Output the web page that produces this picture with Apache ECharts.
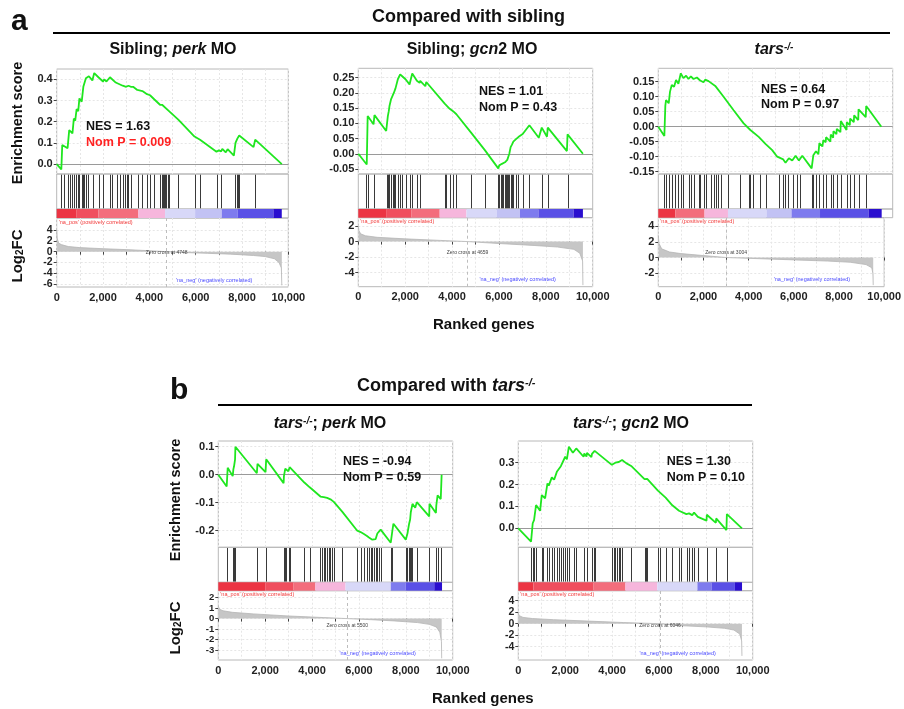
<!DOCTYPE html>
<html><head><meta charset="utf-8">
<script src="https://cdn.jsdelivr.net/npm/echarts@6/dist/echarts.min.js"></script>
<style>html,body{margin:0;padding:0;background:#fff}#c{width:904px;height:709px}</style>
</head><body><div id="c"></div>
<script>
// ---------------- DATA ----------------
// Panel 1: Sibling; perk MO
const es1 = [[0,0],[200,-0.025],[240,0.09],[470,0.075],[540,0.16],[680,0.145],[740,0.215],[800,0.205],[860,0.26],[930,0.25],[980,0.31],[1080,0.295],[1150,0.365],[1200,0.36],[1260,0.405],[1330,0.4],[1390,0.415],[1540,0.395],[1620,0.43],[1800,0.41],[1830,0.415],[2000,0.39],[2050,0.4],[2150,0.39],[2300,0.41],[2550,0.385],[2620,0.38],[2850,0.37],[2880,0.375],[3000,0.365],[3100,0.37],[3200,0.365],[3300,0.365],[3480,0.35],[3520,0.353],[3700,0.345],[3900,0.33],[4030,0.325],[4220,0.305],[4460,0.28],[4550,0.28],[4850,0.25],[5250,0.21],[5950,0.13],[6190,0.115],[6200,0.12],[6900,0.058],[7000,0.065],[7100,0.06],[7150,0.072],[7300,0.055],[7380,0.07],[7650,0.04],[7720,0.10],[7800,0.12],[7880,0.135],[8500,0.08],[8570,0.115],[9720,0.0]];
const hits1 = [186,330,474,575,647,748,819,906,978,1079,1150,1194,1251,1338,1582,1827,2014,2302,2403,2591,2735,2878,2950,3022,3094,3209,3498,3699,3887,4031,4218,4463,4535,4607,4650,4679,4722,4794,4852,5254,5976,6192,6911,7099,7704,7775,7818,7876,8568];
const strip1 = [[0,862,0],[862,1798,1],[1798,3527,2],[3527,4679,4],[4679,5976,5],[5976,7127,6],[7127,7818,7],[7818,9358,8],[9358,9718,9]];
const metric1 = [[0,4.0],[20,2.5],[80,1.6],[200,1.3],[500,0.95],[1000,0.75],[2000,0.55],[3000,0.38],[4000,0.18],[4748,0],[5500,-0.15],[6500,-0.3],[7500,-0.45],[8500,-0.7],[9000,-0.9],[9400,-1.3],[9600,-2.0],[9700,-3.0],[9720,-6.2]];
const esTicks1 = [0, 0.1, 0.2, 0.3, 0.4];
const metTicks1 = [-6, -4, -2, 0, 2, 4];
const zero1 = 4748;

// Panel 2: Sibling; gcn2 MO
const es2 = [[0,0],[360,-0.035],[400,0.124],[650,0.097],[690,0.127],[1190,0.075],[1260,0.124],[1300,0.14],[1330,0.157],[1400,0.18],[1470,0.185],[1515,0.2],[1587,0.215],[1687,0.245],[1786,0.261],[1872,0.255],[2015,0.245],[2186,0.228],[2301,0.264],[2500,0.24],[2520,0.245],[2615,0.233],[2640,0.24],[2860,0.222],[2900,0.236],[3686,0.165],[3757,0.16],[3900,0.148],[4043,0.14],[4185,0.13],[4828,0.068],[5399,0.012],[5971,-0.048],[6014,-0.038],[6071,-0.042],[6128,-0.033],[6185,-0.038],[6256,-0.028],[6299,-0.032],[6356,-0.02],[6399,-0.018],[6442,0.0],[6499,0.022],[6556,0.03],[6614,0.04],[6727,0.048],[6828,0.055],[7013,0.065],[7299,0.094],[7700,0.053],[7827,0.086],[8050,0.056],[8085,0.086],[8900,0.009],[8927,0.064],[9583,0.0]];
const hits2 = [330,401,687,1215,1258,1301,1329,1401,1472,1515,1587,1687,1786,1872,2015,2186,2301,2500,2615,3686,3757,3900,4043,4185,4828,5399,5971,6014,6071,6128,6185,6256,6299,6356,6399,6442,6499,6556,6614,6727,6828,7013,7299,7827,8085,8927];
const strip2 = [[0,1187,0],[1187,2257,1],[2257,3472,2],[3472,4614,4],[4614,5900,5],[5900,6899,6],[6899,7684,7],[7684,9184,8],[9184,9583,9]];
const metric2 = [[0,2.0],[30,1.4],[100,1.0],[300,0.75],[800,0.55],[2000,0.35],[3500,0.15],[4659,0],[6000,-0.25],[7500,-0.5],[8500,-0.7],[9200,-1.0],[9450,-1.5],[9570,-2.5],[9583,-5.6]];
const esTicks2 = [-0.05, 0, 0.05, 0.1, 0.15, 0.2, 0.25];
const metTicks2 = [-4, -2, 0, 2];
const zero2 = 4659;

// Panel 3: tars-/-
const es3 = [[0,0],[258,-0.031],[300,0.07],[330,0.089],[444,0.078],[500,0.117],[574,0.139],[673,0.133],[758,0.156],[857,0.143],[960,0.178],[1071,0.162],[1187,0.17],[1286,0.159],[1388,0.168],[1503,0.159],[1646,0.164],[1786,0.154],[1928,0.148],[2000,0.157],[2143,0.152],[2429,0.136],[2785,0.1],[3213,0.055],[3641,0.011],[3928,-0.011],[3998,-0.009],[4284,-0.034],[4571,-0.057],[4858,-0.078],[5072,-0.1],[5157,-0.102],[5330,-0.109],[5428,-0.12],[5571,-0.105],[5714,-0.113],[5857,-0.097],[5998,-0.113],[6143,-0.097],[6542,-0.139],[6614,-0.095],[6727,-0.082],[6828,-0.092],[6871,-0.055],[7000,-0.066],[7042,-0.045],[7140,-0.052],[7156,-0.035],[7340,-0.05],[7357,-0.026],[7460,-0.037],[7471,-0.015],[7600,-0.025],[7614,-0.007],[7770,-0.018],[7785,0.019],[8030,-0.011],[8042,0.015],[8170,0.005],[8184,0.027],[8340,0.015],[8355,0.038],[8530,0.022],[8542,0.058],[8850,0.032],[8869,0.069],[9515,0.0]];
const hits3 = [258,330,473,587,730,830,973,1072,1301,1401,1544,1729,1786,1929,2015,2043,2257,2357,2472,2543,2686,2972,3472,3871,3928,4043,4357,4614,5157,5299,5399,5542,5728,5899,6042,6542,6614,6727,6871,7042,7156,7357,7471,7614,7785,8042,8184,8355,8542,8869];
const strip3 = [[0,730,0],[730,1973,2],[1973,2972,4],[2972,4614,5],[4614,5685,6],[5685,6899,7],[6899,8970,8],[8970,9530,9]];
const metric3 = [[0,2.8],[30,1.8],[150,1.1],[500,0.7],[1000,0.5],[2000,0.25],[3004,0],[4500,-0.15],[6000,-0.3],[7500,-0.45],[8500,-0.6],[9200,-0.9],[9450,-1.3],[9500,-2.0],[9515,-3.5]];
const esTicks3 = [-0.15, -0.1, -0.05, 0, 0.05, 0.1, 0.15];
const metTicks3 = [-2, 0, 2, 4];
const zero3 = 3004;

// Panel 4: tars-/-; perk MO
const es4 = [[0,0],[358,-0.042],[401,0.025],[615,-0.005],[644,0.02],[672,0.03],[715,0.055],[730,0.1],[1644,0.005],[1672,0.039],[2015,0.009],[2043,0.055],[2786,-0.03],[2800,-0.005],[2857,0.022],[2900,0.028],[2990,0.012],[3043,0.027],[3671,-0.028],[3680,-0.022],[3900,-0.045],[3910,-0.04],[4357,-0.078],[4430,-0.074],[4500,-0.08],[4571,-0.077],[4643,-0.083],[4714,-0.08],[4785,-0.088],[4857,-0.09],[4928,-0.097],[5285,-0.132],[5300,-0.128],[5928,-0.2],[6071,-0.205],[6213,-0.212],[6328,-0.218],[6427,-0.224],[6500,-0.228],[6570,-0.232],[6642,-0.225],[6713,-0.23],[6785,-0.21],[6856,-0.205],[6927,-0.196],[7357,-0.243],[7427,-0.2],[7471,-0.175],[7998,-0.232],[8070,-0.21],[8141,-0.175],[8184,-0.16],[8212,-0.134],[8284,-0.104],[8400,-0.118],[8470,-0.098],[8998,-0.149],[9010,-0.104],[9284,-0.137],[9300,-0.11],[9355,-0.074],[9490,-0.087],[9528,0.0]];
const hits4 = [358,615,672,715,1644,2043,2786,2857,2900,3000,3043,3671,3900,4357,4428,4500,4571,4643,4714,4785,4857,4928,5285,5928,6071,6213,6328,6427,6499,6570,6642,6713,6785,6856,6927,7357,7427,7998,8070,8141,8184,8212,8284,8470,8998,9284,9355,9498];
const strip4 = [[0,2000,0],[2000,3213,1],[3213,4142,2],[4142,5428,4],[5428,7357,5],[7357,7998,7],[7998,9214,8],[9214,9545,9]];
const metric4 = [[0,1.2],[50,0.9],[200,0.75],[600,0.6],[1500,0.45],[3000,0.25],[4500,0.1],[5500,0],[6500,-0.1],[7500,-0.22],[8500,-0.38],[9000,-0.55],[9300,-0.8],[9450,-1.3],[9520,-2.2],[9530,-3.8]];
const esTicks4 = [-0.2, -0.1, 0, 0.1];
const metTicks4 = [-3, -2, -1, 0, 1, 2];
const zero4 = 5500;

// Panel 5: tars-/-; gcn2 MO
const es5 = [[0,0],[544,-0.061],[615,0.023],[672,0.037],[700,0.06],[758,0.106],[929,0.08],[1001,0.152],[1143,0.137],[1244,0.205],[1300,0.195],[1357,0.19],[1430,0.233],[1529,0.222],[1644,0.258],[1729,0.254],[1815,0.284],[1900,0.276],[2001,0.327],[2072,0.315],[2158,0.373],[2329,0.345],[2357,0.35],[2472,0.365],[2786,0.327],[2815,0.342],[2910,0.328],[2929,0.345],[3120,0.325],[3143,0.34],[3214,0.345],[3257,0.354],[3990,0.29],[4000,0.292],[4071,0.289],[4142,0.3],[4214,0.305],[4285,0.303],[4357,0.31],[4428,0.312],[4600,0.298],[4814,0.285],[5385,0.225],[5428,0.228],[5499,0.226],[5956,0.172],[6028,0.172],[6285,0.14],[6570,0.105],[6856,0.08],[6927,0.085],[7170,0.065],[7184,0.072],[7284,0.068],[7420,0.06],[7427,0.068],[7498,0.072],[7660,0.052],[7670,0.06],[8030,0.035],[8042,0.062],[8430,0.025],[8441,0.045],[8880,-0.008],[8898,0.065],[9541,0.0]];
const hits5 = [544,615,672,758,1001,1072,1244,1329,1430,1529,1644,1729,1815,1901,2001,2072,2158,2357,2472,2815,2929,3143,3214,3257,4000,4071,4142,4214,4285,4357,4428,4814,5385,5428,5499,5956,6028,6285,6570,6856,6927,7184,7284,7427,7498,7670,8042,8441,8898];
const strip5 = [[0,643,0],[643,3213,1],[3213,4571,2],[4571,5928,4],[5928,7641,5],[7641,8241,7],[8241,9241,8],[9241,9545,9]];
const metric5 = [[0,1.8],[40,1.4],[200,1.1],[600,0.9],[1500,0.7],[3000,0.45],[4500,0.2],[6046,0],[7000,-0.35],[8000,-0.55],[8800,-0.8],[9200,-1.1],[9450,-1.8],[9530,-3.0],[9541,-5.6]];
const esTicks5 = [0, 0.1, 0.2, 0.3];
const metTicks5 = [-4, -2, 0, 2, 4];
const zero5 = 6046;

const nesValues = ['1.63', '1.01', '0.64', '-0.94', '1.30'];
const nomPValues = ['0.009', '0.43', '0.97', '0.59', '0.10'];

// ---------------- STYLE / LAYOUT ----------------
const FONT = 'Liberation Sans, Arial, sans-serif';
const STRIP_COLORS = ['#ec3443','#f04e5e','#f36d7c','#f590a0','#f6b6dc','#d8d8f8','#c2c2f4','#7e7bee','#5a50e6','#2a0ecf'];

const panels = [
  {es: es1, hits: hits1, strip: strip1, met: metric1, esTicks: esTicks1, esDec: 1, metTicks: metTicks1, zc: zero1},
  {es: es2, hits: hits2, strip: strip2, met: metric2, esTicks: esTicks2, esDec: 2, metTicks: metTicks2, zc: zero2},
  {es: es3, hits: hits3, strip: strip3, met: metric3, esTicks: esTicks3, esDec: 2, metTicks: metTicks3, zc: zero3},
  {es: es4, hits: hits4, strip: strip4, met: metric4, esTicks: esTicks4, esDec: 1, metTicks: metTicks4, zc: zero4},
  {es: es5, hits: hits5, strip: strip5, met: metric5, esTicks: esTicks5, esDec: 1, metTicks: metTicks5, zc: zero5}
];
const layouts = [
  {left: 56.7, width: 231.6, top: 69, esH: 105, hitH: 35, stripH: 9, metH: 69, esMin: -0.047, esMax: 0.449, metMin: -6.5, metMax: 6.2,
   nes: [86, 127], nomRed: true, metFont: 10.5},
  {left: 358.3, width: 234.4, top: 68.3, esH: 105.7, hitH: 35, stripH: 8.7, metH: 69, esMin: -0.0664, esMax: 0.281, metMin: -5.8, metMax: 3.07,
   nes: [479, 92], metFont: 11},
  {left: 658.3, width: 234.4, top: 68.3, esH: 105.7, hitH: 35, stripH: 8.7, metH: 69, esMin: -0.1577, esMax: 0.1947, metMin: -3.7, metMax: 5.05,
   nes: [761, 89.5], metFont: 11},
  {left: 218.3, width: 234.4, top: 441, esH: 106.3, hitH: 35, stripH: 8.4, metH: 69.3, esMin: -0.2593, esMax: 0.1204, metMin: -3.96, metMax: 2.67,
   nes: [343, 462], metFont: 9.5},
  {left: 518.3, width: 234.4, top: 441, esH: 106.3, hitH: 35, stripH: 8.4, metH: 69.3, esMin: -0.0869, esMax: 0.399, metMin: -6.31, metMax: 5.74,
   nes: [666.7, 462], metFont: 10.5}
];

const fmtK = v => String(v).replace(/\B(?=(\d{3})+(?!\d))/g, ',');
const labelStyle = {fontFamily: FONT, fontWeight: 'bold', fontSize: 11, color: '#222'};
const gridLine = {show: true, lineStyle: {color: '#e6e6e6', type: [2, 2], width: 1}};

const grids = [], xAxes = [], yAxes = [], series = [];
panels.forEach((p, i) => {
  const L = layouts[i];
  const tops = [L.top, L.top + L.esH, L.top + L.esH + L.hitH, L.top + L.esH + L.hitH + L.stripH];
  const hs = [L.esH, L.hitH, L.stripH, L.metH];
  for (let k = 0; k < 4; k++) {
    grids.push({left: L.left, top: tops[k], width: L.width, height: hs[k], show: true, borderColor: '#b8b8b8', borderWidth: 1});
    xAxes.push({
      type: 'value', gridIndex: i * 4 + k, min: 0, max: 10000, interval: 1000,
      axisLine: {show: false},
      axisTick: {show: k === 3, length: 3, lineStyle: {color: '#444'}},
      axisLabel: Object.assign({show: k === 3, margin: 5, showMinLabel: true, showMaxLabel: true,
        formatter: v => (v % 2000 === 0 ? fmtK(v) : '')}, labelStyle),
      splitLine: (k === 0 || k === 3) ? gridLine : {show: false}
    });
  }
  const g0 = i * 4;
  yAxes.push({
    type: 'value', gridIndex: g0, min: L.esMin, max: L.esMax,
    axisLine: {show: false},
    axisTick: {show: true, length: 3, customValues: p.esTicks, lineStyle: {color: '#444'}},
    axisLabel: Object.assign({customValues: p.esTicks, margin: 4, showMinLabel: true, showMaxLabel: true, hideOverlap: false,
      lineHeight: 8, formatter: v => v.toFixed(p.esDec)}, labelStyle),
    splitLine: gridLine
  });
  yAxes.push({type: 'value', gridIndex: g0 + 1, min: 0, max: 1, show: false});
  yAxes.push({type: 'value', gridIndex: g0 + 2, min: 0, max: 1, show: false});
  yAxes.push({
    type: 'value', gridIndex: g0 + 3, min: L.metMin, max: L.metMax,
    axisLine: {show: false},
    axisTick: {show: true, length: 3, customValues: p.metTicks, lineStyle: {color: '#444'}},
    axisLabel: Object.assign({}, labelStyle, {customValues: p.metTicks, margin: 4, showMinLabel: true, showMaxLabel: true, hideOverlap: false,
      lineHeight: 8, fontSize: L.metFont, formatter: v => String(v)}),
    splitLine: gridLine
  });

  series.push({
    type: 'line', xAxisIndex: g0, yAxisIndex: g0, data: p.es, showSymbol: false, animation: false, z: 5,
    lineStyle: {color: '#1fe61f', width: 1.8},
    markLine: {silent: true, symbol: 'none', label: {show: false}, animation: false, z: 3,
      lineStyle: {color: '#9a9a9a', type: 'solid', width: 1}, data: [{yAxis: 0}]}
  });
  series.push({
    type: 'custom', xAxisIndex: g0 + 1, yAxisIndex: g0 + 1, animation: false,
    data: p.hits.map(r => [r, 0]), encode: {x: 0, y: 1},
    renderItem: (params, api) => {
      const x = api.value(0);
      const a = api.coord([x, 0.98]), b = api.coord([x, 0.02]);
      return {type: 'line', shape: {x1: Math.round(a[0]) + 0.5, y1: a[1], x2: Math.round(a[0]) + 0.5, y2: b[1]},
        style: {stroke: '#3a3a3a', lineWidth: 1}};
    }
  });
  series.push({
    type: 'custom', xAxisIndex: g0 + 2, yAxisIndex: g0 + 2, animation: false,
    data: p.strip, encode: {x: [0, 1]},
    renderItem: (params, api) => {
      const a = api.coord([api.value(0), 1]), b = api.coord([api.value(1), 0]);
      return {type: 'rect', shape: {x: a[0], y: a[1], width: b[0] - a[0], height: b[1] - a[1]},
        style: {fill: STRIP_COLORS[api.value(2)]}};
    }
  });
  series.push({
    type: 'line', xAxisIndex: g0 + 3, yAxisIndex: g0 + 3, data: p.met, showSymbol: false, animation: false,
    lineStyle: {color: '#b5b5b5', width: 0.8}, areaStyle: {color: '#c6c6c6', opacity: 1},
    markLine: {silent: true, symbol: 'none', label: {show: false}, animation: false,
      lineStyle: {color: '#bdbdbd', type: [3, 3], width: 1}, data: [{xAxis: p.zc}]}
  });
});

// ---------------- TEXT ----------------
const richFor = size => ({
  b: {fontFamily: FONT, fontWeight: 'bold', fontSize: size, fill: '#111'},
  i: {fontFamily: FONT, fontWeight: 'bold', fontStyle: 'italic', fontSize: size, fill: '#111'},
  s: {fontFamily: FONT, fontWeight: 'bold', fontStyle: 'italic', fontSize: Math.round(size * 0.6), fill: '#111', verticalAlign: 'top'},
  sub: {fontFamily: FONT, fontWeight: 'bold', fontSize: Math.round(size * 0.65), fill: '#111', verticalAlign: 'bottom'}
});
function txt(x, y, text, size, opts) {
  opts = opts || {};
  return {
    type: 'text', x: x, y: y, rotation: opts.rot || 0, silent: true, z: 100,
    style: {text: text, rich: richFor(size), fontFamily: FONT, fontWeight: 'bold', fontSize: size,
      fill: opts.fill || '#111', align: opts.align || 'center', verticalAlign: opts.va || 'middle'}
  };
}
const graphics = [
  txt(11, 22, 'a', 30, {align: 'left'}),
  txt(170, 391, 'b', 30, {align: 'left'}),
  {type: 'line', silent: true, z: 100, shape: {x1: 53, y1: 33, x2: 890, y2: 33}, style: {stroke: '#000', lineWidth: 2}},
  {type: 'line', silent: true, z: 100, shape: {x1: 218, y1: 405, x2: 752, y2: 405}, style: {stroke: '#000', lineWidth: 2}},
  txt(372, 17, '{b|Compared with sibling}', 18, {align: 'left'}),
  txt(357, 386, '{b|Compared with }{i|tars}{s|-/-}', 18, {align: 'left'}),
  txt(173, 50, '{b|Sibling; }{i|perk}{b| MO}', 16),
  txt(472, 50, '{b|Sibling; }{i|gcn}{b|2 MO}', 16),
  txt(774, 50, '{i|tars}{s|-/-}', 16),
  txt(330, 424, '{i|tars}{s|-/-}{b|; }{i|perk}{b| MO}', 16),
  txt(631, 424, '{i|tars}{s|-/-}{b|; }{i|gcn}{b|2 MO}', 16),
  txt(18, 123, '{b|Enrichment score}', 14.5, {rot: Math.PI / 2}),
  txt(18, 256, '{b|Log}{sub|2}{b|FC}', 15, {rot: Math.PI / 2}),
  txt(176, 500, '{b|Enrichment score}', 14.5, {rot: Math.PI / 2}),
  txt(176, 628, '{b|Log}{sub|2}{b|FC}', 15, {rot: Math.PI / 2}),
  txt(433, 325, '{b|Ranked genes}', 15, {align: 'left'}),
  txt(432, 699, '{b|Ranked genes}', 15, {align: 'left'})
];
layouts.forEach((L, i) => {
  graphics.push(txt(L.nes[0], L.nes[1], 'NES = ' + nesValues[i], 12.5, {align: 'left'}));
  graphics.push({type: 'text', x: L.nes[0], y: L.nes[1] + 15.5, silent: true, z: 100,
    style: {text: 'Nom P = ' + nomPValues[i], fontFamily: FONT, fontWeight: 'bold', fontSize: 12.5,
      fill: L.nomRed ? '#ff2222' : '#111', align: 'left', verticalAlign: 'middle'}});
});

const chart = echarts.init(document.getElementById('c'), null, {renderer: 'canvas'});
chart.setOption({
  animation: false, backgroundColor: '#fff',
  grid: grids, xAxis: xAxes, yAxis: yAxes, series: series, graphic: graphics
});

// small annotation texts placed through the axes' scales
const small = [];
panels.forEach((p, i) => {
  const L = layouts[i];
  const g3 = i * 4 + 3;
  const metTop = L.top + L.esH + L.hitH + L.stripH;
  const zx = chart.convertToPixel({gridIndex: g3}, [p.zc, 0])[0];
  const nx = chart.convertToPixel({gridIndex: g3}, [6800, 0])[0];
  small.push({type: 'text', x: zx, y: metTop + L.metH / 2, silent: true, z: 100,
    style: {text: 'Zero cross at ' + p.zc, fontFamily: FONT, fontSize: 5, fill: '#444', align: 'center', verticalAlign: 'middle'}});
  small.push({type: 'text', x: L.left + 2, y: metTop + 1, silent: true, z: 100,
    style: {text: "'na_pos' (positively correlated)", fontFamily: FONT, fontSize: 5.5, fill: '#f23a3a', align: 'left', verticalAlign: 'top'}});
  small.push({type: 'text', x: nx, y: metTop + L.metH - 4, silent: true, z: 100,
    style: {text: "'na_neg' (negatively correlated)", fontFamily: FONT, fontSize: 5.5, fill: '#4a4aff', align: 'center', verticalAlign: 'bottom'}});
});
chart.setOption({graphic: graphics.concat(small)});
</script></body></html>
